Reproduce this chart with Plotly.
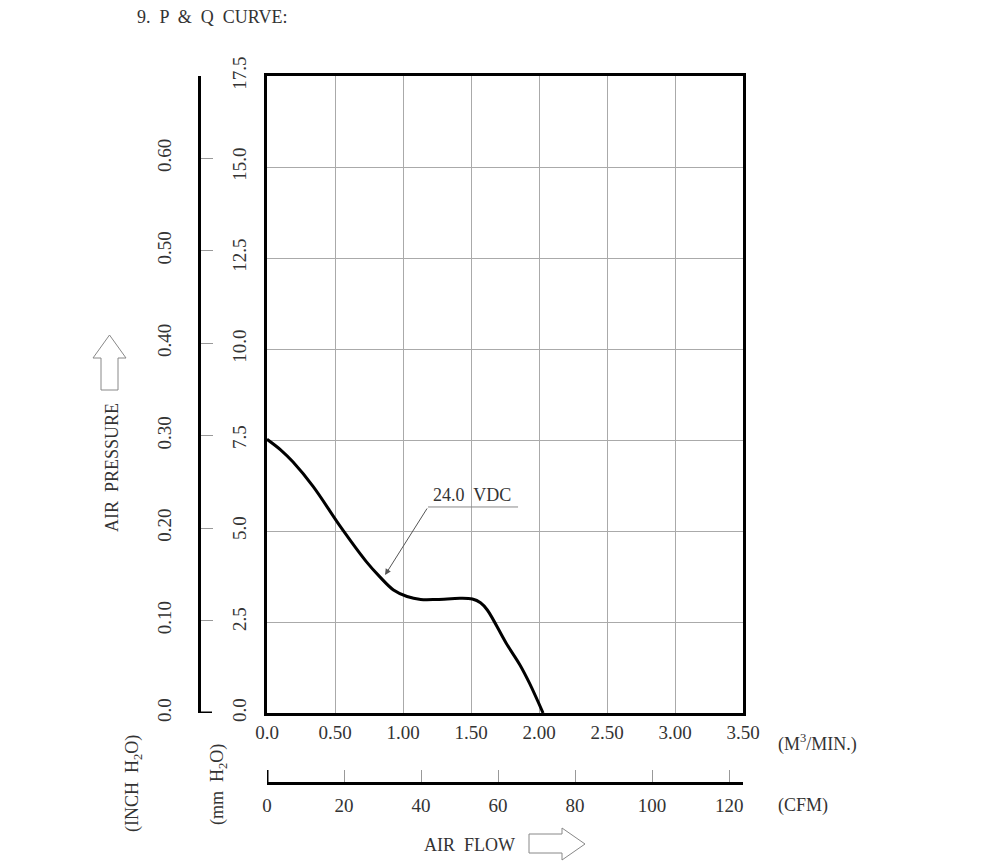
import plotly.graph_objects as go

# P-Q curve (air flow in M^3/MIN, pressure in mm H2O)
flow_m3 = [0.0, 0.10, 0.19, 0.34, 0.54, 0.73, 0.83, 0.93, 1.03, 1.13, 1.25,
           1.42, 1.51, 1.57, 1.62, 1.76, 1.86, 1.93, 2.03]
press_mm = [7.52, 7.23, 6.90, 6.22, 5.12, 4.16, 3.74, 3.38, 3.20, 3.12, 3.12,
            3.15, 3.13, 3.03, 2.83, 1.91, 1.32, 0.82, 0.0]
curve_name = "24.0&nbsp; VDC"

x_ticks = [0.0, 0.5, 1.0, 1.5, 2.0, 2.5, 3.0, 3.5]
x_labels = ["0.0", "0.50", "1.00", "1.50", "2.00", "2.50", "3.00", "3.50"]
mm_ticks = [0.0, 2.5, 5.0, 7.5, 10.0, 12.5, 15.0, 17.5]
mm_labels = ["0.0", "2.5", "5.0", "7.5", "10.0", "12.5", "15.0", "17.5"]
inch_ticks = [0.0, 0.1, 0.2, 0.3, 0.4, 0.5, 0.6]
inch_labels = ["0.0", "0.10", "0.20", "0.30", "0.40", "0.50", "0.60"]
cfm_ticks = [0, 20, 40, 60, 80, 100, 120]

M3_TO_CFM = 35.315
MM_PER_INCH = 25.4

# page geometry (pixels -> paper fractions)
W, H = 1000, 864
ML, MR, MT, MB = 180, 257, 76, 60
PW, PH = W - ML - MR, H - MT - MB


def px(x):
    return (x - ML) / PW


def py(y):
    return (H - MB - y) / PH


FONT = dict(family="Liberation Serif", size=18, color="#333")
TICKFONT = dict(family="Liberation Serif", size=19, color="#333")
GRID = "#aaaaaa"

fig = go.Figure()

fig.add_trace(go.Scatter(
    x=flow_m3, y=press_mm, mode="lines", name=curve_name,
    line=dict(color="black", width=3, shape="spline", smoothing=1.0),
    hoverinfo="skip", showlegend=False,
))

# same curve in CFM / inch H2O so the secondary scales get drawn
fig.add_trace(go.Scatter(
    x=[v * M3_TO_CFM for v in flow_m3],
    y=[v / MM_PER_INCH for v in press_mm],
    xaxis="x2", yaxis="y2", mode="lines", opacity=0,
    line=dict(width=0), hoverinfo="skip", showlegend=False,
))

fig.update_layout(
    width=W, height=H,
    margin=dict(l=ML, r=MR, t=MT, b=MB),
    paper_bgcolor="white", plot_bgcolor="white",
    font=FONT,
    xaxis=dict(
        domain=[px(267), 1], range=[0, 3.5],
        tickvals=x_ticks, ticktext=x_labels, tickfont=TICKFONT,
        showgrid=True, gridcolor=GRID, gridwidth=1,
        showline=True, linecolor="black", linewidth=2.5, mirror=True,
        ticks="", ticklabelstandoff=0, zeroline=False,
    ),
    yaxis=dict(
        domain=[py(713), 1], range=[0, 17.5],
        tickvals=mm_ticks, ticktext=mm_labels, tickangle=-90,
        tickfont=TICKFONT,
        showgrid=True, gridcolor=GRID, gridwidth=1,
        showline=True, linecolor="black", linewidth=2.5, mirror=True,
        ticks="", ticklabelstandoff=11, zeroline=False,
    ),
    xaxis2=dict(
        overlaying="x", anchor="free", position=py(783),
        range=[0, 3.5 * M3_TO_CFM], tickvals=cfm_ticks, tickfont=TICKFONT,
        showgrid=False, zeroline=False,
        showline=True, linecolor="black", linewidth=3,
        ticks="inside", ticklen=12, tickcolor="#999", tickwidth=1,
        ticklabelstandoff=4,
    ),
    yaxis2=dict(
        overlaying="y", anchor="free", position=px(199), side="left",
        range=[0, 17.5 / MM_PER_INCH],
        tickvals=inch_ticks, ticktext=inch_labels, tickangle=-90,
        tickfont=TICKFONT,
        showgrid=False, zeroline=False,
        showline=True, linecolor="black", linewidth=3,
        ticks="inside", ticklen=12, tickcolor="#999", tickwidth=1,
        ticklabelstandoff=19,
    ),
)

# black end ticks at the zero of the secondary scales
fig.add_shape(type="line", xref="paper", yref="y", x0=px(199), x1=px(212),
              y0=0, y1=0, line=dict(color="black", width=3))
fig.add_shape(type="line", xref="x2", yref="paper", x0=0, x1=0,
              y0=py(783), y1=py(770), line=dict(color="black", width=3))

# curve label with underline and leader arrow
fig.add_annotation(x=1.51, y=5.99, xref="x", yref="y", text=curve_name,
                   showarrow=False, font=FONT)
fig.add_shape(type="line", xref="x", yref="y", x0=1.184, x1=1.846,
              y0=5.66, y1=5.66, line=dict(color="#888", width=1))
fig.add_annotation(x=0.868, y=3.79, ax=1.184, ay=5.66, axref="x", ayref="y",
                   xref="x", yref="y", text="", showarrow=True,
                   arrowhead=2, arrowsize=1.2, arrowwidth=1, arrowcolor="#555")

# page texts
texts = [
    ("9.&nbsp; P &nbsp;&amp;&nbsp; Q &nbsp;CURVE:", 135, 17, 0, "left"),
    ("(M<sup>3</sup>/MIN.)", 776, 743, 0, "left"),
    ("(CFM)", 776, 805, 0, "left"),
    ("AIR&nbsp; FLOW", 469, 845, 0, "center"),
    ("AIR&nbsp; PRESSURE", 112, 468, -90, "center"),
    ("(INCH&nbsp; H<sub>2</sub>O)", 133, 784, -90, "center"),
    ("(mm&nbsp; H<sub>2</sub>O)", 218, 785, -90, "center"),
]
for txt, x, y, ang, anchor in texts:
    fig.add_annotation(xref="paper", yref="paper", x=px(x), y=py(y),
                       text=txt, showarrow=False, textangle=ang,
                       xanchor=anchor, yanchor="middle", font=FONT)


def outline(points):
    path = "M " + " L ".join(f"{px(a)},{py(b)}" for a, b in points) + " Z"
    return dict(type="path", xref="paper", yref="paper", path=path,
                line=dict(color="#888", width=1), fillcolor="white")


# hollow arrows next to the axis titles
fig.add_shape(**outline([(101, 390), (101, 358), (93, 358), (109.5, 335),
                         (126, 358), (118, 358), (118, 390)]))
fig.add_shape(**outline([(529, 834), (562, 834), (562, 828), (585, 844),
                         (562, 860), (562, 853), (529, 853)]))

# drop the default page margin so the chart sits at the window origin
fig.write_html("out.html", config={"displayModeBar": False},
               post_script="document.body.style.margin='0';")
